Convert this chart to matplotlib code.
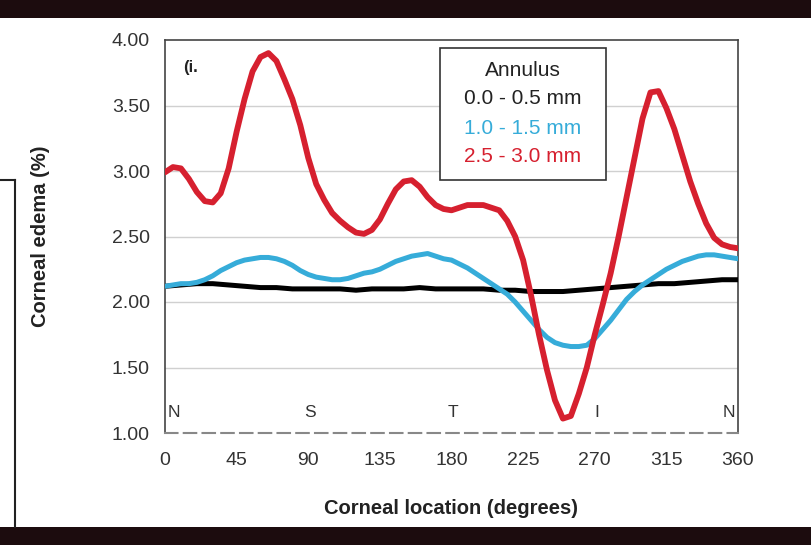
import matplotlib
matplotlib.use("Agg")
import matplotlib.pyplot as plt
from matplotlib.patches import Rectangle

plt.rcParams['font.family'] = ['Liberation Sans', 'DejaVu Sans']

# ---------------- data ----------------
deg5 = list(range(0, 361, 5))
deg10 = list(range(0, 361, 10))

red_25_30 = [2.99, 3.03, 3.02, 2.94, 2.84, 2.77, 2.76, 2.83, 3.02, 3.30,
             3.55, 3.76, 3.87, 3.90, 3.84, 3.70, 3.55, 3.35, 3.10, 2.90,
             2.78, 2.68, 2.62, 2.57, 2.53, 2.52, 2.55, 2.63, 2.75, 2.86,
             2.92, 2.93, 2.88, 2.80, 2.74, 2.71, 2.70, 2.72, 2.74, 2.74,
             2.74, 2.72, 2.70, 2.62, 2.50, 2.32, 2.05, 1.75, 1.48, 1.25,
             1.11, 1.13, 1.30, 1.50, 1.75, 1.98, 2.22, 2.50, 2.80, 3.10,
             3.40, 3.60, 3.61, 3.48, 3.32, 3.12, 2.92, 2.75, 2.60, 2.49,
             2.44, 2.42, 2.41]

blue_10_15 = [2.12, 2.13, 2.14, 2.14, 2.15, 2.17, 2.20, 2.24, 2.27, 2.30,
              2.32, 2.33, 2.34, 2.34, 2.33, 2.31, 2.28, 2.24, 2.21, 2.19,
              2.18, 2.17, 2.17, 2.18, 2.20, 2.22, 2.23, 2.25, 2.28, 2.31,
              2.33, 2.35, 2.36, 2.37, 2.35, 2.33, 2.32, 2.29, 2.26, 2.22,
              2.18, 2.14, 2.10, 2.06, 2.00, 1.93, 1.86, 1.79, 1.73, 1.69,
              1.67, 1.66, 1.66, 1.67, 1.72, 1.79, 1.86, 1.94, 2.02, 2.08,
              2.13, 2.17, 2.21, 2.25, 2.28, 2.31, 2.33, 2.35, 2.36, 2.36,
              2.35, 2.34, 2.33]

black_00_05 = [2.12, 2.13, 2.14, 2.14, 2.13, 2.12, 2.11, 2.11, 2.10, 2.10,
               2.10, 2.10, 2.09, 2.10, 2.10, 2.10, 2.11, 2.10, 2.10, 2.10,
               2.10, 2.09, 2.09, 2.08, 2.08, 2.08, 2.09, 2.10, 2.11, 2.12,
               2.13, 2.14, 2.14, 2.15, 2.16, 2.17, 2.17]

xticks = [0, 45, 90, 135, 180, 225, 270, 315, 360]
yticks = [1.00, 1.50, 2.00, 2.50, 3.00, 3.50, 4.00]
directions = ["N", "S", "T", "I", "N"]
direction_deg = [0, 90, 180, 270, 360]
legend_title = "Annulus"
legend_labels = ["0.0 - 0.5 mm", "1.0 - 1.5 mm", "2.5 - 3.0 mm"]

RED = "#d6202f"
BLUE = "#36acd9"
BLACK = "#000000"
GRAY = "#333333"

# ---------------- figure ----------------
fig = plt.figure(figsize=(8.11, 5.45), dpi=100)
fig.patch.set_facecolor("white")

# top and bottom dark bands
fig.add_artist(Rectangle((0, 1 - 18 / 545), 1, 18 / 545, transform=fig.transFigure,
                         facecolor="#1c0c0e", edgecolor="none", zorder=0))
fig.add_artist(Rectangle((0, 0), 1, 18 / 545, transform=fig.transFigure,
                         facecolor="#1c0c0e", edgecolor="none", zorder=0))
# left frame fragment
fig.add_artist(plt.Line2D([15 / 811, 15 / 811], [18 / 545, 1 - 180 / 545],
                          transform=fig.transFigure, color="#222222", lw=1.5))
fig.add_artist(plt.Line2D([0, 15 / 811], [1 - 180 / 545, 1 - 180 / 545],
                          transform=fig.transFigure, color="#222222", lw=1.5))

ax = fig.add_axes([165 / 811, 1 - 433 / 545, 573 / 811, 393 / 545])
ax.set_xlim(0, 360)
ax.set_ylim(1.0, 4.0)

for y in yticks[1:-1]:
    ax.axhline(y, color="#d0d0d0", lw=1.0, zorder=0)

ax.plot(deg10, black_00_05, color=BLACK, lw=3.6, solid_capstyle="round", zorder=3)
ax.plot(deg5, blue_10_15, color=BLUE, lw=3.6, solid_capstyle="round", zorder=4)
ax.plot(deg5, red_25_30, color=RED, lw=4.2, solid_capstyle="round",
        solid_joinstyle="round", zorder=5)

ax.set_xticks(xticks)
ax.set_xticklabels([str(t) for t in xticks])
ax.set_yticks(yticks)
ax.set_yticklabels([f"{t:.2f}" for t in yticks])
ax.tick_params(axis="both", length=0, labelsize=14, colors=GRAY)
ax.tick_params(axis="x", pad=14)
ax.tick_params(axis="y", pad=11)

for s in ["top", "right", "left"]:
    ax.spines[s].set_color("#444444")
    ax.spines[s].set_linewidth(1.2)
ax.spines["bottom"].set_color("#888888")
ax.spines["bottom"].set_linewidth(1.5)
ax.spines["bottom"].set_linestyle((0, (6, 3)))

ax.set_xlabel("Corneal location (degrees)", fontsize=14.5, fontweight="bold",
              color="#222222", labelpad=21)
ax.set_ylabel("Corneal edema (%)", fontsize=14.5, fontweight="bold",
              color="#222222", labelpad=44)

# direction labels
for d, lab in zip(direction_deg, directions):
    if d == 0:
        ha, xx = "left", d + 1.5
    elif d == 360:
        ha, xx = "right", d - 2
    else:
        ha, xx = "center", d + 1
    ax.text(xx, 1.16, lab, ha=ha, va="center", fontsize=12.5, color=GRAY, zorder=6)

# panel label
ax.text(0.032, 0.93, "(i.", transform=ax.transAxes, fontsize=12,
        fontweight="bold", color="#222222", ha="left", va="center")

# legend box
lx0, lx1 = (440 - 165) / 573, (606 - 165) / 573
ly0, ly1 = (433 - 180) / 393, (433 - 48) / 393
ax.add_patch(Rectangle((lx0, ly0), lx1 - lx0, ly1 - ly0, transform=ax.transAxes,
                       facecolor="white", edgecolor="#333333", lw=1.2, zorder=7))
cx = (lx0 + lx1) / 2
ys = [70, 98, 128, 157]
cols = ["#222222", "#222222", BLUE, RED]
for txt, yy, c in zip([legend_title] + legend_labels, ys, cols):
    ax.text(cx, (433 - yy) / 393, txt, transform=ax.transAxes, ha="center",
            va="center", fontsize=15, color=c, zorder=8)

fig.savefig("out.png", dpi=100)
